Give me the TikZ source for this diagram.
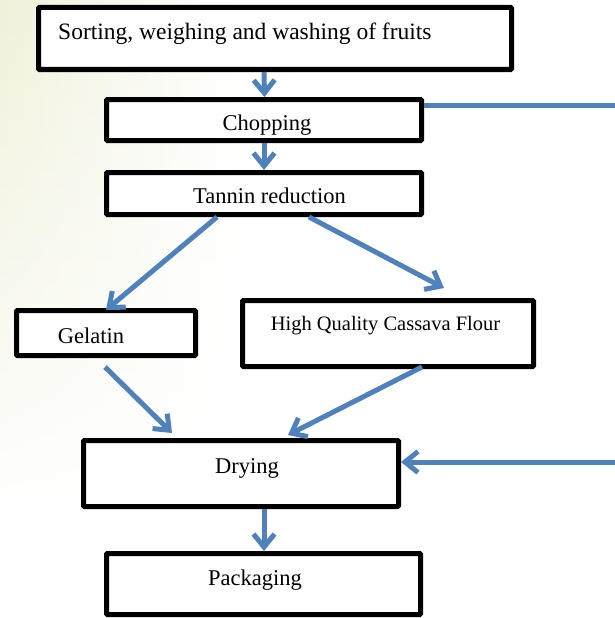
\documentclass[tikz,border=0pt]{standalone}
\usepackage{fontspec}
\setmainfont{Liberation Serif}
\usetikzlibrary{arrows.meta,calc,fadings}
\definecolor{arrowblue}{RGB}{79,129,189}
\definecolor{bgtint}{RGB}{240,241,218}
\tikzfading[name=fadedown, top color=transparent!0, middle color=transparent!20, bottom color=transparent!100]
\tikzset{
  box/.style={draw=black, line width=5pt, rectangle, rounded corners=1pt, fill=white, inner sep=0pt},
  lbl/.style={anchor=base, inner sep=0pt, font=\fontsize{22.5}{26}\selectfont},
  lblwide/.style={anchor=base west, inner sep=0pt, font=\fontsize{23.5}{27}\selectfont},
  lblsmall/.style={anchor=base, inner sep=0pt, font=\fontsize{20.5}{24}\selectfont},
  flow/.style={draw=arrowblue, line width=5pt, -{Straight Barb[length=13pt,width=21pt,line width=5pt]}},
  plainflow/.style={draw=arrowblue, line width=5pt}
}
\begin{document}
\begin{tikzpicture}[x=1pt,y=-1pt]
\useasboundingbox (0,0) rectangle (614,618);
\fill[white] (0,0) rectangle (614,618);
\shade[left color=bgtint, right color=white, path fading=fadedown] (0,0) rectangle (240,520);

\node[box, minimum width=473pt, minimum height=62pt] (wash) at (275,38.5) {};
\node[box, minimum width=315pt, minimum height=41pt] (chop) at (264,120) {};
\node[box, minimum width=315pt, minimum height=42pt] (tannin) at (264,193.5) {};
\node[box, minimum width=179pt, minimum height=45pt] (gel) at (106,333) {};
\node[box, minimum width=291pt, minimum height=66pt] (hqcf) at (388,333.5) {};
\node[box, minimum width=315pt, minimum height=66pt] (dry) at (241,473.5) {};
\node[box, minimum width=314pt, minimum height=61pt] (pack) at (263.5,584) {};

\node[lblwide] (twash) at (58,40) {Sorting, weighing and washing of fruits};
\node[lbl] (tchop) at (267,130) {Chopping};
\node[lbl] (ttan) at (269.5,203) {Tannin reduction};
\node[lbl] (tgel) at (91,343) {Gelatin};
\node[lblsmall] (thq) at (385.5,330) {High Quality Cassava Flour};
\node[lbl] (tdry) at (247,473) {Drying};
\node[lbl] (tpack) at (255,585) {Packaging};

\coordinate (rtop) at (616,105);
\coordinate (rbot) at (616,462);

\draw[flow] ([xshift=-11pt]wash.south) -- ([xshift=0.5pt]chop.north);
\draw[flow] (chop.south) -- (tannin.north);
\draw[flow] ([xshift=-47pt]tannin.south) -- ([yshift=-2pt]gel.north);
\draw[flow] ([xshift=45pt]tannin.south) -- ([xshift=56pt,yshift=10pt]hqcf.north);
\draw[flow] ([xshift=-1pt,yshift=-9pt]gel.south) -- ([xshift=-69pt,yshift=5pt]dry.north);
\draw[flow] ([xshift=34pt,yshift=2pt]hqcf.south) -- ([xshift=47pt,yshift=3pt]dry.north);
\draw[plainflow] ([yshift=15pt]chop.east) -- (rtop);
\draw[flow] (rbot) -- ([yshift=11.5pt]dry.east);
\draw[flow] ([xshift=23pt]dry.south) -- ([xshift=0.5pt]pack.north);
\end{tikzpicture}
\end{document}
